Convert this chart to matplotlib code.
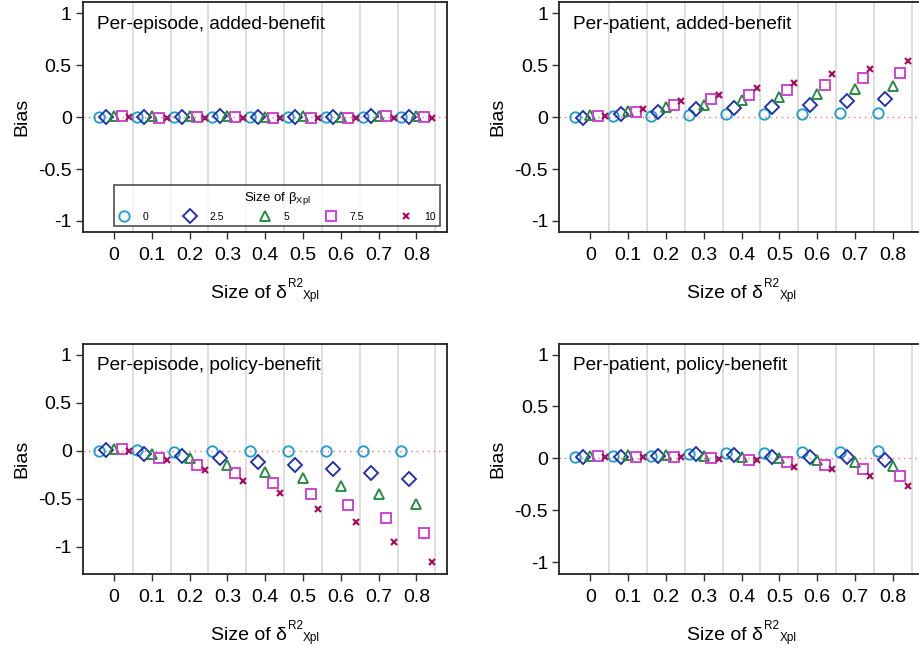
import numpy as np
import matplotlib.pyplot as plt
from matplotlib.lines import Line2D

plt.rcParams['font.family'] = ['Liberation Sans', 'DejaVu Sans']
plt.rcParams['mathtext.fontset'] = 'custom'
plt.rcParams['mathtext.rm'] = 'Liberation Sans'
plt.rcParams['mathtext.it'] = 'Liberation Sans'
plt.rcParams['mathtext.default'] = 'regular'

# delta R2 groups and beta sizes
delta = [0, 0.1, 0.2, 0.3, 0.4, 0.5, 0.6, 0.7, 0.8]
delta_labels = ['0', '0.1', '0.2', '0.3', '0.4', '0.5', '0.6', '0.7', '0.8']
beta_labels = ['0', '2.5', '5', '7.5', '10']

# Per-episode, added-benefit (one row per beta)
ep_added = [
    [0.0, 0.0, 0.0, 0.0, 0.0, 0.0, 0.0, 0.0, 0.0],
    [0.0, 0.0, 0.0, 0.005, 0.0, 0.0, 0.0, 0.005, 0.0],
    [0.005, 0.005, 0.005, 0.005, 0.0, 0.005, 0.0, 0.005, 0.005],
    [0.005, -0.01, 0.0, 0.0, -0.005, -0.005, -0.005, 0.005, 0.0],
    [0.0, -0.005, -0.005, -0.005, -0.005, -0.01, -0.005, -0.005, -0.005],
]
# Per-patient, added-benefit
pt_added = [
    [0.0, 0.005, 0.005, 0.015, 0.025, 0.025, 0.03, 0.04, 0.04],
    [-0.005, 0.03, 0.05, 0.08, 0.09, 0.10, 0.12, 0.15, 0.17],
    [0.015, 0.06, 0.10, 0.12, 0.16, 0.19, 0.22, 0.27, 0.30],
    [0.01, 0.05, 0.12, 0.17, 0.21, 0.26, 0.31, 0.375, 0.42],
    [0.01, 0.08, 0.15, 0.21, 0.28, 0.33, 0.41, 0.465, 0.535],
]
# Per-episode, policy-benefit
ep_policy = [
    [0.0, 0.005, -0.01, 0.0, 0.0, 0.0, 0.0, 0.0, -0.005],
    [0.005, -0.03, -0.055, -0.075, -0.115, -0.15, -0.19, -0.235, -0.295],
    [0.015, -0.035, -0.08, -0.15, -0.22, -0.28, -0.365, -0.445, -0.555],
    [0.015, -0.08, -0.15, -0.235, -0.34, -0.445, -0.56, -0.695, -0.86],
    [0.0, -0.095, -0.2, -0.315, -0.435, -0.605, -0.745, -0.945, -1.16],
]
# Per-patient, policy-benefit
pt_policy = [
    [0.015, 0.02, 0.02, 0.04, 0.055, 0.055, 0.065, 0.065, 0.075],
    [0.01, 0.015, 0.02, 0.04, 0.03, 0.015, 0.015, 0.01, -0.02],
    [0.02, 0.03, 0.03, 0.02, 0.01, 0.0, -0.02, -0.04, -0.075],
    [0.025, 0.01, 0.015, 0.005, -0.015, -0.04, -0.065, -0.105, -0.17],
    [0.015, 0.015, 0.01, -0.005, -0.02, -0.08, -0.105, -0.175, -0.265],
]

offsets = [-0.04, -0.02, 0.0, 0.02, 0.04]
markers = ['o', 'D', '^', 's', 'x']
colors = ['#1f9fd0', '#1f2fb0', '#218a3c', '#cf3fcf', '#a3135f']
msizes = [7.5, 7, 7, 7.5, 4.5]

FW, FH = 920, 649
fig = plt.figure(figsize=(FW / 100, FH / 100), dpi=100)
renderer = fig.canvas.get_renderer()
w, h = 0.3957, 0.3544
panels = [
    ([0.0902, 0.6425, w, h], ep_added, 'Per-episode, added-benefit', (-1.106, 1.106), True),
    ([0.6080, 0.6425, w, h], pt_added, 'Per-patient, added-benefit', (-1.106, 1.106), False),
    ([0.0902, 0.1163, w, h], ep_policy, 'Per-episode, policy-benefit', (-1.277, 1.115), False),
    ([0.6080, 0.1163, w, h], pt_policy, 'Per-patient, policy-benefit', (-1.11, 1.106), False),
]


def xlabel_scripts(ax, main, sup, sub):
    # "Size of δ" with a raised R2 and a small Xpl after it, like the Stata label
    bb = ax.get_position()
    cx = (bb.x0 + bb.x1) / 2 * FW
    base = bb.y0 * FH - 66
    t1 = fig.text(0, 0, main, fontsize=14, va='baseline', ha='left')
    t2 = fig.text(0, 0, sup, fontsize=8.5, va='baseline', ha='left')
    t3 = fig.text(0, 0, sub, fontsize=8.5, va='baseline', ha='left')
    w1 = t1.get_window_extent(renderer).width
    w2 = t2.get_window_extent(renderer).width
    w3 = t3.get_window_extent(renderer).width
    x0 = cx - (w1 + w2 + w3) / 2
    t1.set_position((x0 / FW, base / FH))
    t2.set_position(((x0 + w1 + 1) / FW, (base + 11) / FH))
    t3.set_position(((x0 + w1 + w2 + 1) / FW, (base - 1) / FH))


for rect, data, title, ylim, show_leg in panels:
    ax = fig.add_axes(rect)
    for g in np.arange(0.05, 0.9, 0.1):
        ax.axvline(g, color='#dedede', lw=1.4, zorder=0)
    ax.axhline(0, color='#ff7070', lw=1, ls=(0, (1, 3)), zorder=1)
    for i in range(5):
        xs = np.array(delta) + offsets[i]
        if markers[i] == 'x':
            ax.plot(xs, data[i], ls='none', marker='x', ms=msizes[i], mew=1.6,
                    color=colors[i], zorder=3)
        else:
            ax.plot(xs, data[i], ls='none', marker=markers[i], ms=msizes[i], mew=1.35,
                    mfc='none', mec=colors[i], zorder=3)
    ax.set_xlim(-0.082, 0.881)
    ax.set_ylim(*ylim)
    ax.set_xticks(delta)
    ax.set_xticklabels(delta_labels)
    ax.set_yticks([-1, -0.5, 0, 0.5, 1])
    ax.set_yticklabels(['-1', '-0.5', '0', '0.5', '1'])
    ax.tick_params(labelsize=14, length=5, width=1, color='#333333')
    ax.tick_params(axis='x', pad=6)
    ax.tick_params(axis='y', pad=3)
    for s in ax.spines.values():
        s.set_color('#222222')
        s.set_linewidth(1.3)
    ax.set_ylabel('Bias', fontsize=14, labelpad=6)
    xlabel_scripts(ax, 'Size of δ', 'R2', 'Xpl')
    ax.text(0.0385, 0.883, title, transform=ax.transAxes, fontsize=13.7,
            va='baseline', ha='left')
    if show_leg:
        handles = []
        for i in range(5):
            if markers[i] == 'x':
                handles.append(Line2D([], [], ls='none', marker='x', ms=4.5, mew=1.6,
                                      color=colors[i]))
            else:
                handles.append(Line2D([], [], ls='none', marker=markers[i], ms=msizes[i],
                                      mew=1.35, mfc='none', mec=colors[i]))
        leg = ax.legend(handles, beta_labels, ncol=5, loc='lower left',
                        bbox_to_anchor=(0.085, 0.026, 0.896, 0.2), mode='expand',
                        title=r'Size of β$_{Xpl}$', title_fontsize=9.5, fontsize=7.5,
                        frameon=True, fancybox=False, edgecolor='#222222',
                        handletextpad=1.2, borderaxespad=0, columnspacing=1.0,
                        handlelength=1.2, borderpad=0.4)
        leg.get_frame().set_linewidth(1.2)

fig.savefig('out.png', dpi=100)
